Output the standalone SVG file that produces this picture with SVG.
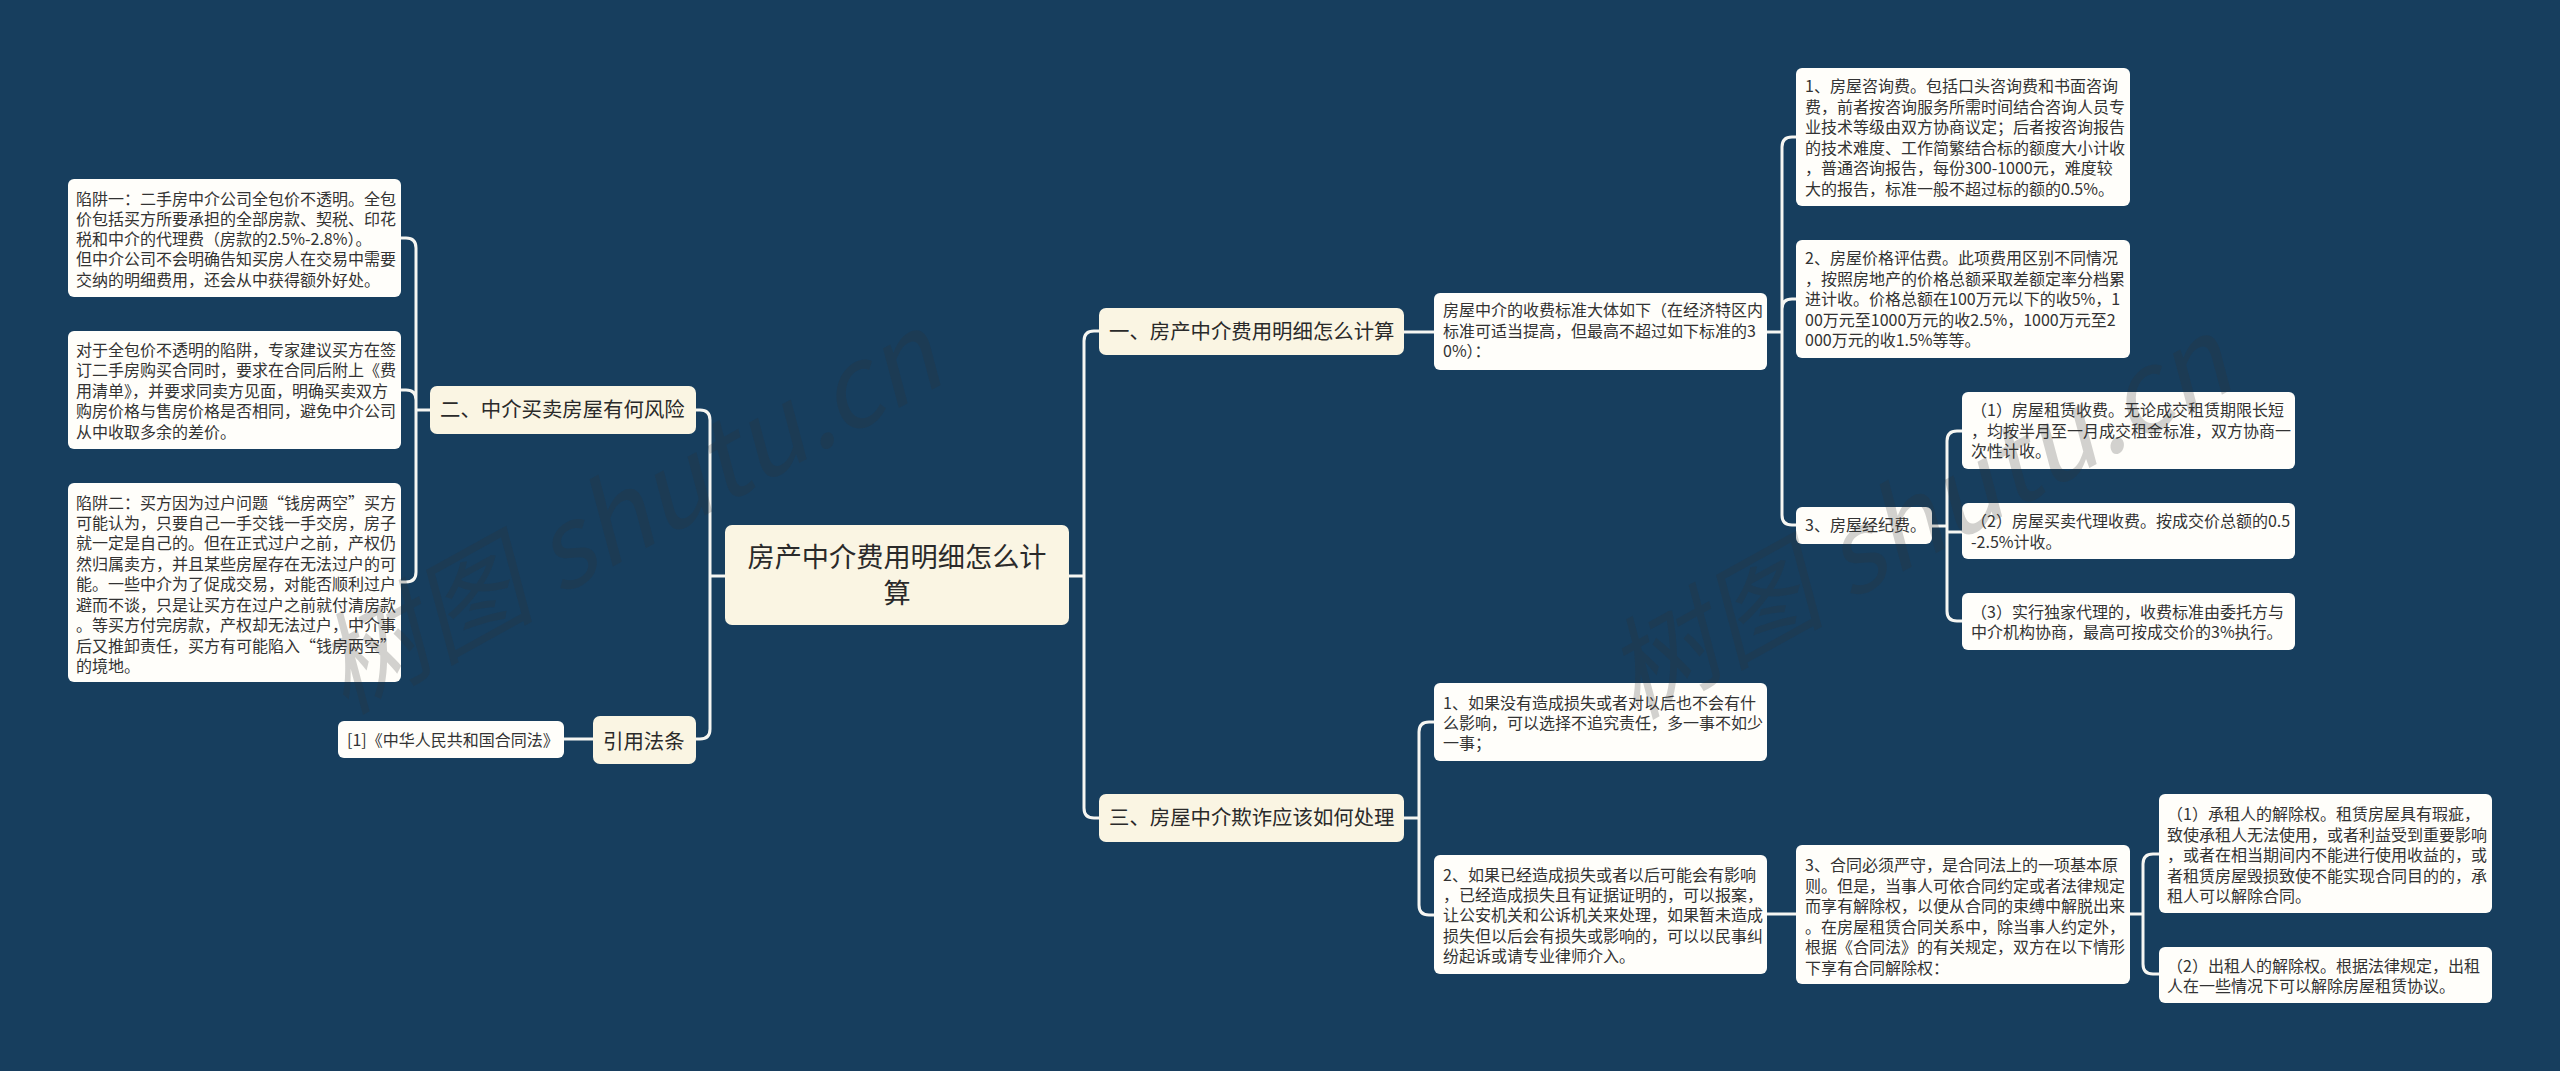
<svg xmlns="http://www.w3.org/2000/svg" width="2560" height="1071" viewBox="0 0 2560 1071">
<style>
text{font-family:"Noto Sans CJK SC","Microsoft YaHei","Liberation Sans",sans-serif;fill:#333}
.b{fill:#fffefa}
.t{fill:#faf5e3}
.s{font-size:16px}
.h{font-size:20.4px;fill:#2a2a2a}
.r{font-size:27.2px;fill:#2a2a2a;text-anchor:middle}
.c{fill:none;stroke:#f6f6f2;stroke-width:3}
.w{font-family:"Liberation Sans","Noto Sans CJK SC",sans-serif;font-size:110px;fill:#303a44;fill-opacity:.22;font-style:italic}
</style>
<rect width="2560" height="1071" fill="#173e5e"/>
<g id="connectors" class="c">
<path d="M725 576H710M696 410H700Q710 410 710 420V729Q710 739 700 739H696"/>
<path d="M1069 576H1084M1099 331H1094Q1084 331 1084 341V808Q1084 818 1094 818H1099"/>
<path d="M1404 332H1434M1767 332H1782"/>
<path d="M1796 137H1792Q1782 137 1782 147V515Q1782 525 1792 525H1796M1782 309Q1782 299 1792 299H1796"/>
<path d="M1932 526H1947M1962 431H1957Q1947 431 1947 441V611Q1947 621 1957 621H1962M1947 532H1962"/>
<path d="M1404 818H1419M1434 722H1429Q1419 722 1419 732V905Q1419 915 1429 915H1434"/>
<path d="M1767 914H1796M2130 914H2143M2159 854H2153Q2143 854 2143 864V964Q2143 974 2153 974H2159"/>
<path d="M430 410H416M401 238H406Q416 238 416 248V572Q416 582 406 582H401M401 390H406Q416 390 416 400"/>
<path d="M564 739H593"/>
</g>
<g id="root"><rect class="t" x="725" y="525" width="344" height="100" rx="7"/><text class="r" x="897" y="567">房产中介费用明细怎么计</text><text class="r" x="897" y="603">算</text></g>
<g id="n1"><rect class="t" x="1099" y="308" width="305" height="47" rx="7"/><text class="h" x="1109" y="339">一、房产中介费用明细怎么计算</text></g>
<g id="n2"><rect class="t" x="430" y="386" width="266" height="48" rx="7"/><text class="h" x="440" y="417">二、中介买卖房屋有何风险</text></g>
<g id="n3"><rect class="t" x="1099" y="794" width="305" height="48" rx="7"/><text class="h" x="1109" y="825">三、房屋中介欺诈应该如何处理</text></g>
<g id="n4"><rect class="t" x="593" y="716" width="103" height="48" rx="7"/><text class="h" x="603" y="749">引用法条</text></g>
<g id="a0" class="s"><rect class="b" x="1434" y="293" width="333" height="77" rx="6"/>
<text x="1443" y="316">房屋中介的收费标准大体如下（在经济特区内</text><text x="1443" y="337">标准可适当提高，但最高不超过如下标准的3</text><text x="1443" y="357">0%）：</text></g>
<g id="a1" class="s"><rect class="b" x="1796" y="68" width="334" height="138" rx="6"/>
<text x="1805" y="92">1、房屋咨询费。包括口头咨询费和书面咨询</text><text x="1805" y="113">费，前者按咨询服务所需时间结合咨询人员专</text><text x="1805" y="133">业技术等级由双方协商议定；后者按咨询报告</text><text x="1805" y="154">的技术难度、工作简繁结合标的额度大小计收</text><text x="1805" y="174">，普通咨询报告，每份300-1000元，难度较</text><text x="1805" y="195">大的报告，标准一般不超过标的额的0.5%。</text></g>
<g id="a2" class="s"><rect class="b" x="1796" y="240" width="334" height="118" rx="6"/>
<text x="1805" y="264">2、房屋价格评估费。此项费用区别不同情况</text><text x="1805" y="285">，按照房地产的价格总额采取差额定率分档累</text><text x="1805" y="305">进计收。价格总额在100万元以下的收5%，1</text><text x="1805" y="326">00万元至1000万元的收2.5%，1000万元至2</text><text x="1805" y="346">000万元的收1.5%等等。</text></g>
<g id="a3" class="s"><rect class="b" x="1796" y="507" width="136" height="37" rx="6"/><text x="1805" y="531">3、房屋经纪费。</text></g>
<g id="a31" class="s"><rect class="b" x="1962" y="392" width="333" height="77" rx="6"/>
<text x="1971" y="416">（1）房屋租赁收费。无论成交租赁期限长短</text><text x="1971" y="437">，均按半月至一月成交租金标准，双方协商一</text><text x="1971" y="457">次性计收。</text></g>
<g id="a32" class="s"><rect class="b" x="1962" y="503" width="333" height="56" rx="6"/>
<text x="1971" y="527">（2）房屋买卖代理收费。按成交价总额的0.5</text><text x="1971" y="548">-2.5%计收。</text></g>
<g id="a33" class="s"><rect class="b" x="1962" y="593" width="333" height="57" rx="6"/>
<text x="1971" y="618">（3）实行独家代理的，收费标准由委托方与</text><text x="1971" y="638">中介机构协商，最高可按成交价的3%执行。</text></g>
<g id="c1" class="s"><rect class="b" x="1434" y="683" width="333" height="78" rx="6"/>
<text x="1443" y="709">1、如果没有造成损失或者对以后也不会有什</text><text x="1443" y="729">么影响，可以选择不追究责任，多一事不如少</text><text x="1443" y="749">一事；</text></g>
<g id="c2" class="s"><rect class="b" x="1434" y="855" width="333" height="119" rx="6"/>
<text x="1443" y="881">2、如果已经造成损失或者以后可能会有影响</text><text x="1443" y="901">，已经造成损失且有证据证明的，可以报案，</text><text x="1443" y="921">让公安机关和公诉机关来处理，如果暂未造成</text><text x="1443" y="942">损失但以后会有损失或影响的，可以以民事纠</text><text x="1443" y="962">纷起诉或请专业律师介入。</text></g>
<g id="c3" class="s"><rect class="b" x="1796" y="845" width="334" height="139" rx="6"/>
<text x="1805" y="871">3、合同必须严守，是合同法上的一项基本原</text><text x="1805" y="892">则。但是，当事人可依合同约定或者法律规定</text><text x="1805" y="912">而享有解除权，以便从合同的束缚中解脱出来</text><text x="1805" y="933">。在房屋租赁合同关系中，除当事人约定外，</text><text x="1805" y="953">根据《合同法》的有关规定，双方在以下情形</text><text x="1805" y="974">下享有合同解除权：</text></g>
<g id="c31" class="s"><rect class="b" x="2159" y="794" width="333" height="119" rx="6"/>
<text x="2167" y="820">（1）承租人的解除权。租赁房屋具有瑕疵，</text><text x="2167" y="841">致使承租人无法使用，或者利益受到重要影响</text><text x="2167" y="861">，或者在相当期间内不能进行使用收益的，或</text><text x="2167" y="882">者租赁房屋毁损致使不能实现合同目的的，承</text><text x="2167" y="902">租人可以解除合同。</text></g>
<g id="c32" class="s"><rect class="b" x="2159" y="947" width="333" height="56" rx="6"/>
<text x="2167" y="972">（2）出租人的解除权。根据法律规定，出租</text><text x="2167" y="992">人在一些情况下可以解除房屋租赁协议。</text></g>
<g id="l1" class="s"><rect class="b" x="68" y="179" width="333" height="118" rx="6"/>
<text x="76" y="205">陷阱一：二手房中介公司全包价不透明。全包</text><text x="76" y="225">价包括买方所要承担的全部房款、契税、印花</text><text x="76" y="245">税和中介的代理费（房款的2.5%-2.8%）。</text><text x="76" y="265">但中介公司不会明确告知买房人在交易中需要</text><text x="76" y="286">交纳的明细费用，还会从中获得额外好处。</text></g>
<g id="l2" class="s"><rect class="b" x="68" y="331" width="333" height="118" rx="6"/>
<text x="76" y="356">对于全包价不透明的陷阱，专家建议买方在签</text><text x="76" y="376">订二手房购买合同时，要求在合同后附上《费</text><text x="76" y="397">用清单》，并要求同卖方见面，明确买卖双方</text><text x="76" y="417">购房价格与售房价格是否相同，避免中介公司</text><text x="76" y="438">从中收取多余的差价。</text></g>
<g id="l3" class="s"><rect class="b" x="68" y="483" width="333" height="199" rx="6"/>
<text x="76" y="509">陷阱二：买方因为过户问题“钱房两空”买方</text><text x="76" y="529">可能认为，只要自己一手交钱一手交房，房子</text><text x="76" y="549">就一定是自己的。但在正式过户之前，产权仍</text><text x="76" y="570">然归属卖方，并且某些房屋存在无法过户的可</text><text x="76" y="590">能。一些中介为了促成交易，对能否顺利过户</text><text x="76" y="611">避而不谈，只是让买方在过户之前就付清房款</text><text x="76" y="631">。等买方付完房款，产权却无法过户，中介事</text><text x="76" y="652">后又推卸责任，买方有可能陷入“钱房两空”</text><text x="76" y="672">的境地。</text></g>
<g id="l4" class="s"><rect class="b" x="338" y="721" width="226" height="37" rx="6"/><text x="347" y="746">[1]《中华人民共和国合同法》</text></g>
<g id="watermark" class="w">
<text transform="translate(345 715) rotate(-29)">树图 shutu.cn</text>
<text transform="translate(1635 720) rotate(-29)">树图 shutu.cn</text>
</g>
</svg>
